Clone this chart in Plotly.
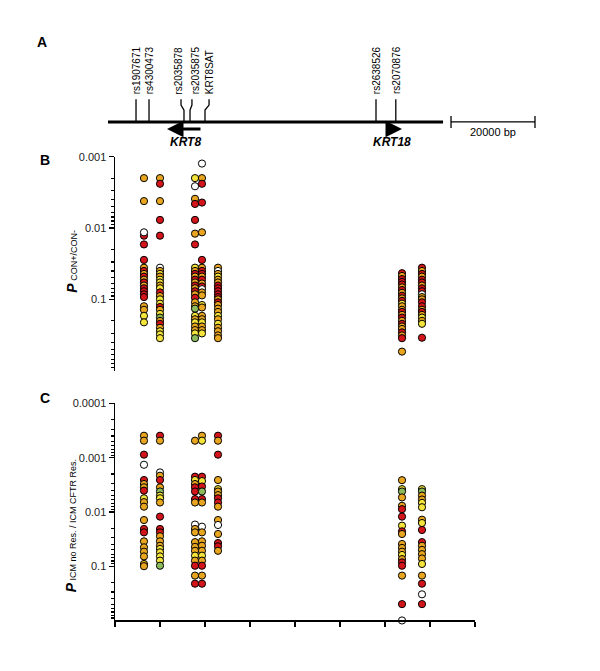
import plotly.graph_objects as go

W, H = 600, 671

def fx(px):
    return px / W

def fy(py):
    return 1 - py / H

# ---------------- DATA ----------------
# column positions along the locus (kb)
COL_X_KB = [6.44, 10.0, 17.78, 19.33, 22.89, 63.78, 68.22]

# Panel B: P CON+/CON- per SNP column, with colour codes
B_P1 = [0.0020, 0.0042, 0.0128, 0.0115, 0.017, 0.028, 0.036, 0.040, 0.044, 0.048, 0.053, 0.058, 0.064, 0.070, 0.077, 0.085, 0.093, 0.125, 0.14, 0.17, 0.21]
B_C1 = "OORWRRORORORORRRROOYY"
B_P2 = [0.0020, 0.0024, 0.0042, 0.0077, 0.0128, 0.036, 0.040, 0.044, 0.048, 0.053, 0.058, 0.064, 0.070, 0.080, 0.090, 0.10, 0.115, 0.128, 0.14, 0.16, 0.18, 0.20, 0.22, 0.25, 0.28, 0.31, 0.35]
B_C2 = "ORORRWOYOYYOYROYYROYGOROYYY"
B_P3 = [0.0020, 0.0026, 0.0039, 0.0046, 0.0077, 0.012, 0.017, 0.036, 0.040, 0.044, 0.048, 0.053, 0.058, 0.064, 0.070, 0.077, 0.085, 0.095, 0.11, 0.125, 0.135, 0.17, 0.19, 0.21, 0.24, 0.27, 0.30, 0.35]
B_C3 = "YWORRORYOROROROROROOGYOYOOYGY"
B_P4 = [0.00125, 0.0020, 0.0024, 0.0044, 0.0115, 0.028, 0.036, 0.040, 0.044, 0.048, 0.053, 0.060, 0.066, 0.072, 0.080, 0.088, 0.12, 0.13, 0.17, 0.19, 0.21, 0.24, 0.27, 0.30]
B_C4 = "WORRORORRORORWOOYOOOYOOYO"
B_P5 = [0.036, 0.040, 0.044, 0.048, 0.053, 0.058, 0.064, 0.070, 0.077, 0.085, 0.093, 0.10, 0.11, 0.12, 0.135, 0.15, 0.17, 0.19, 0.22, 0.25, 0.28, 0.32, 0.35]
B_C5 = "OWOYOORRRRRORoOOYOYOOOO".upper()
B_P6 = [0.043, 0.047, 0.052, 0.057, 0.062, 0.068, 0.074, 0.081, 0.089, 0.097, 0.105, 0.115, 0.125, 0.14, 0.15, 0.165, 0.18, 0.20, 0.22, 0.24, 0.26, 0.29, 0.32, 0.35, 0.54]
B_C6 = "RORRRORORORYOOROROROOROROW"
B_P7 = [0.036, 0.040, 0.044, 0.048, 0.053, 0.058, 0.064, 0.070, 0.077, 0.085, 0.093, 0.10, 0.11, 0.125, 0.14, 0.15, 0.165, 0.18, 0.20, 0.22, 0.345]
B_C7 = "RORORRORRWOORROROYOYR"

# Panel C: P ICM no Res. / ICM CFTR Res.
C_P1 = [0.000394, 0.000486, 0.00088, 0.00135, 0.00258, 0.00306, 0.00352, 0.00405, 0.0056, 0.0066, 0.0080, 0.0141, 0.0206, 0.0238, 0.0348, 0.0449, 0.054, 0.066, 0.091, 0.10]
C_C1 = "OORWROORYOOORROOOOOO"
C_P2 = [0.000394, 0.000486, 0.00187, 0.00215, 0.00258, 0.00352, 0.0042, 0.0050, 0.0056, 0.0067, 0.0122, 0.0206, 0.0238, 0.0281, 0.0348, 0.042, 0.048, 0.0555, 0.066, 0.079, 0.098]
C_C2 = "ROWOROGYYORRROOOYYYYG"
C_P3 = [0.000486, 0.00224, 0.00258, 0.00306, 0.00352, 0.0042, 0.0058, 0.0067, 0.0171, 0.0206, 0.0238, 0.036, 0.044, 0.052, 0.064, 0.079, 0.098, 0.149, 0.21]
C_C3 = "ORYORRROWOOOOOYOROR"
C_P4 = [0.000394, 0.000486, 0.00224, 0.0027, 0.0034, 0.0042, 0.0058, 0.0067, 0.0187, 0.0238, 0.0348, 0.042, 0.052, 0.064, 0.079, 0.098, 0.149, 0.21]
C_C4 = "OYRYRGROWOOOOYOROR"
C_P5 = [0.000394, 0.000486, 0.00088, 0.00258, 0.0038, 0.0042, 0.0049, 0.0056, 0.0067, 0.0080, 0.0141, 0.0174, 0.0255, 0.0374, 0.043, 0.052]
C_C5 = "ROROYOORROOWORRO"
C_P6 = [0.0026, 0.0038, 0.0042, 0.0054, 0.0077, 0.0089, 0.0122, 0.0179, 0.0228, 0.0255, 0.039, 0.046, 0.054, 0.062, 0.074, 0.085, 0.098, 0.149, 0.50, 1.0]
C_C6 = "OYGOORRYROOOOYORRORW"
C_P7 = [0.0038, 0.0042, 0.0050, 0.0059, 0.0068, 0.0082, 0.0139, 0.016, 0.0215, 0.036, 0.042, 0.050, 0.060, 0.072, 0.091, 0.149, 0.21, 0.33, 0.50]
C_C7 = "YGOOYYOYRROOOOYORWR"

COLOR_MAP = {"O": "#E8A620", "Y": "#F3E33A", "R": "#D3151B", "G": "#8DBB5C", "W": "#FFFFFF"}

# Panel A: locus map
SNP_NAMES = ["rs1907671", "rs4300473", "rs2035878", "rs2035875", "KRT8SAT", "rs2638526", "rs2070876"]
SNP_POS_KB = [4.67, 7.56, 15.33, 16.67, 20.0, 58.0, 62.4]
SNP_TOP_KB = [4.67, 7.56, 14.67, 17.1, 20.9, 58.0, 62.4]
SNP_LABEL_KB = [4.67, 7.56, 14.1, 17.8, 20.9, 58.0, 62.4]
LOCUS_KB = [-1.56, 72.9]
KRT8_ARROW_KB = [19.33, 11.56]   # tail, head
KRT18_ARROW_KB = [60.22, 63.78]  # tail, head
GENE_LABELS = ["KRT8", "KRT18"]
GENE_LABEL_KB = [15.6, 61.6]
SCALE_BAR_KB = [74.67, 93.33]
SCALE_TEXT = "20000 bp"

# ---------------- FIGURE ----------------
fig = go.Figure()

def add_panel(cols_p, cols_c, xa, ya):
    xs, ys, cs = [], [], []
    for x, ps, cc in zip(COL_X_KB, cols_p, cols_c):
        for p, c in zip(ps, cc):
            xs.append(x)
            ys.append(p)
            cs.append(COLOR_MAP.get(c, COLOR_MAP["O"]))
    fig.add_trace(go.Scatter(
        x=xs, y=ys, mode="markers", xaxis=xa, yaxis=ya, cliponaxis=False,
        marker=dict(size=7.2, color=cs, line=dict(color="black", width=1)),
        showlegend=False, hoverinfo="skip"))

add_panel([B_P1, B_P2, B_P3, B_P4, B_P5, B_P6, B_P7],
          [B_C1, B_C2, B_C3, B_C4, B_C5, B_C6, B_C7], "x", "y")
add_panel([C_P1, C_P2, C_P3, C_P4, C_P5, C_P6, C_P7],
          [C_C1, C_C2, C_C3, C_C4, C_C5, C_C6, C_C7], "x2", "y2")

# Panel A: locus line
fig.add_trace(go.Scatter(x=LOCUS_KB, y=[0, 0], mode="lines", xaxis="x3", yaxis="y3",
                         line=dict(color="black", width=3), showlegend=False, hoverinfo="skip"))
# SNP stems
for pos, top in zip(SNP_POS_KB, SNP_TOP_KB):
    if abs(pos - top) < 1e-9:
        sx, sy = [pos, pos], [0, 23]
    else:
        sx, sy = [pos, pos, top, top], [0, 12, 17, 23]
    fig.add_trace(go.Scatter(x=sx, y=sy, mode="lines", xaxis="x3", yaxis="y3",
                             line=dict(color="black", width=1.3), showlegend=False, hoverinfo="skip"))
# scale bar
fig.add_trace(go.Scatter(x=SCALE_BAR_KB, y=[0, 0], mode="lines", xaxis="x3", yaxis="y3",
                         line=dict(color="black", width=1.3), showlegend=False, hoverinfo="skip"))
for xb in SCALE_BAR_KB:
    fig.add_trace(go.Scatter(x=[xb, xb], y=[6, -6], mode="lines", xaxis="x3", yaxis="y3",
                             line=dict(color="black", width=1.3), showlegend=False, hoverinfo="skip"))

annotations = []
FONT = "Liberation Sans, Arial, sans-serif"
for name, lx in zip(SNP_NAMES, SNP_LABEL_KB):
    annotations.append(dict(x=lx, y=26, xref="x3", yref="y3", text=name, showarrow=False,
                            textangle=-90, xanchor="center", yanchor="bottom",
                            font=dict(family=FONT, size=10, color="black")))
for (tail, head) in [KRT8_ARROW_KB, KRT18_ARROW_KB]:
    annotations.append(dict(x=head, y=-7, ax=tail, ay=-7, xref="x3", yref="y3", axref="x3", ayref="y3",
                            text="", showarrow=True, arrowhead=2, arrowsize=1.1, arrowwidth=3,
                            arrowcolor="black", standoff=0))
for g, gx in zip(GENE_LABELS, GENE_LABEL_KB):
    annotations.append(dict(x=gx, y=-20, xref="x3", yref="y3", text="<b><i>%s</i></b>" % g,
                            showarrow=False, xanchor="center", yanchor="middle",
                            font=dict(family=FONT, size=12, color="black")))
annotations.append(dict(x=sum(SCALE_BAR_KB) / 2, y=-10, xref="x3", yref="y3", text=SCALE_TEXT,
                        showarrow=False, xanchor="center", yanchor="middle",
                        font=dict(family=FONT, size=11, color="black")))

# panel letters
for letter, (lx, ly) in zip("ABC", [(42, 36), (45, 155), (45, 396)]):
    annotations.append(dict(x=fx(lx), y=fy(ly), xref="paper", yref="paper", text="<b>%s</b>" % letter,
                            showarrow=False, xanchor="center", yanchor="middle",
                            font=dict(family=FONT, size=14, color="black")))

# y-axis titles
annotations.append(dict(x=fx(72), y=fy(258), xref="paper", yref="paper", textangle=-90,
                        xanchor="center", yanchor="middle",
                        text="<b><i>P</i></b><span style='font-size:9px'> CON+/CON-</span>",
                        showarrow=False, font=dict(family=FONT, size=14, color="black")))
annotations.append(dict(x=fx(71), y=fy(525), xref="paper", yref="paper", textangle=-90,
                        xanchor="center", yanchor="middle",
                        text="<b><i>P</i></b><span style='font-size:9px'> ICM no Res. / ICM CFTR Res.</span>",
                        showarrow=False, font=dict(family=FONT, size=14, color="black")))

def minor_vals(lo_exp, hi_exp):
    vals = []
    for e in range(lo_exp, hi_exp):
        for m in range(2, 10):
            vals.append(m * 10 ** e)
    return vals

tickfont = dict(family=FONT, size=11, color="#222")
common_y = dict(type="log", ticks="outside", ticklen=5, tickwidth=1.2, tickcolor="black",
                showline=True, linewidth=1.5, linecolor="black", showgrid=False, zeroline=False,
                tickfont=tickfont)

fig.update_layout(
    width=W, height=H, margin=dict(l=0, r=0, t=0, b=0),
    paper_bgcolor="white", plot_bgcolor="white", showlegend=False,
    xaxis=dict(domain=[fx(115), fx(475)], range=[0, 80], anchor="y", showline=False,
               showticklabels=False, ticks="", showgrid=False, zeroline=False),
    yaxis=dict(domain=[fy(368), fy(152)], range=[0, -3], anchor="x",
               tickvals=[0.001, 0.01, 0.1], ticktext=["0.001", "0.01", "0.1"],
               minor=dict(ticks="outside", ticklen=3, tickcolor="black", tickvals=minor_vals(-3, 0)),
               **common_y),
    xaxis2=dict(domain=[fx(115), fx(475)], range=[0, 80], anchor="y2", showline=True, linewidth=1.5,
                linecolor="black", ticks="outside", ticklen=5, tickwidth=1.2, tickcolor="black",
                dtick=10, tick0=0, showticklabels=False, showgrid=False, zeroline=False),
    yaxis2=dict(domain=[fy(620), fy(401)], range=[0, -4], anchor="x2",
                tickvals=[0.0001, 0.001, 0.01, 0.1], ticktext=["0.0001", "0.001", "0.01", "0.1"],
                minor=dict(ticks="outside", ticklen=3, tickcolor="black", tickvals=minor_vals(-4, 0)),
                **common_y),
    xaxis3=dict(domain=[0, 1], range=[(0 - 115) / 4.5, (600 - 115) / 4.5], anchor="y3", visible=False),
    yaxis3=dict(domain=[fy(150), fy(20)], range=[-33, 97], anchor="x3", visible=False),
    annotations=annotations,
)

fig.write_html("out.html", config={"displayModeBar": False, "staticPlot": True},
               post_script="document.body.style.margin='0px';document.body.style.padding='0px';")
